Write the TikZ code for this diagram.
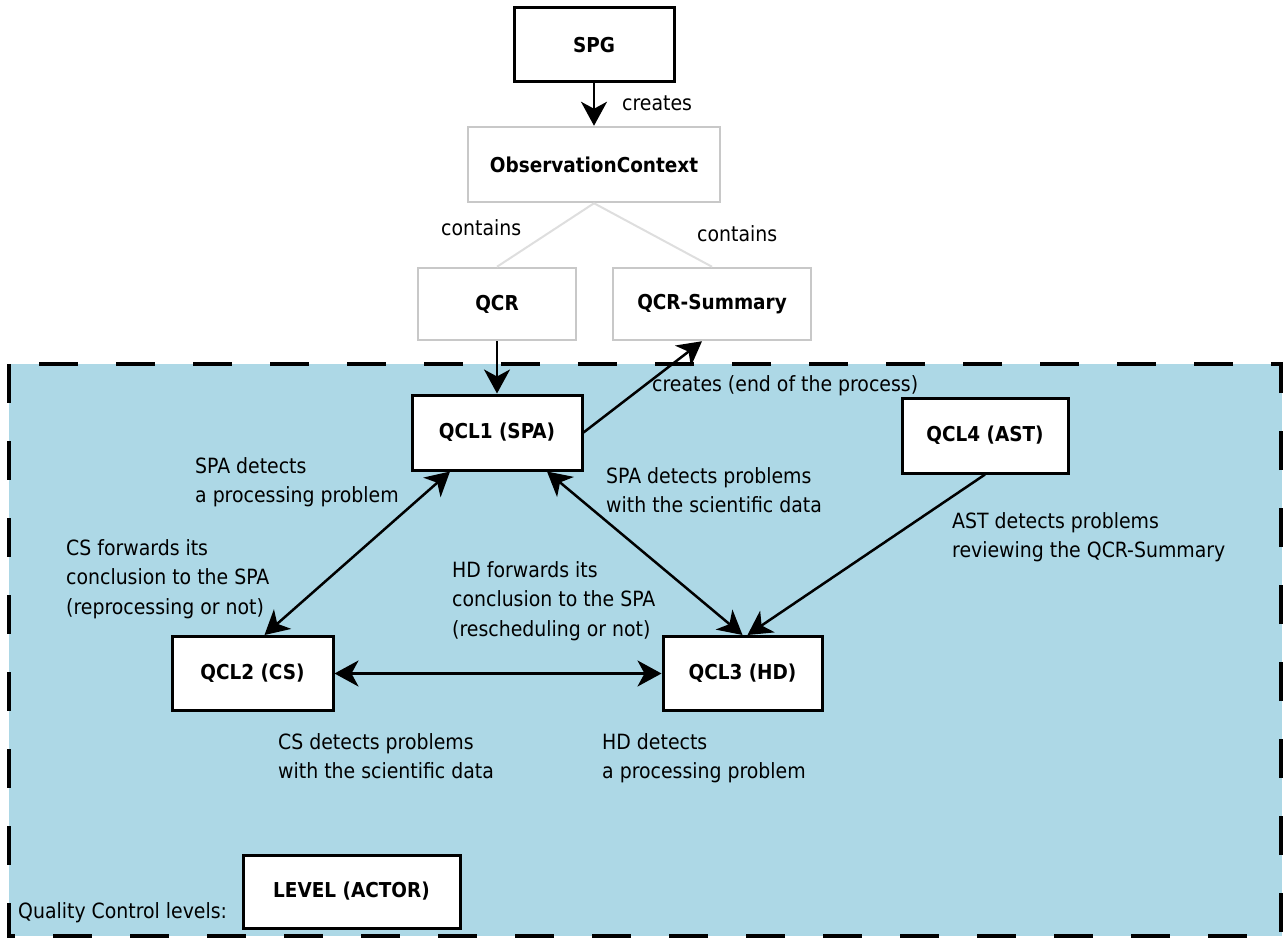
\documentclass[tikz,border=0pt]{standalone}
\usepackage{fontspec}
\setmainfont{DejaVu Sans Condensed}
\usetikzlibrary{arrows.meta}
\definecolor{qcblue}{RGB}{173,216,230}
\definecolor{boxgray}{RGB}{200,200,200}
\definecolor{linkgray}{RGB}{222,222,222}
\newcommand{\notesize}{\fontsize{21}{29.5}\selectfont}
\newcommand{\boxfont}{\fontsize{20.5}{22}\selectfont\bfseries}

\begin{document}
\begin{tikzpicture}[x=1pt,y=-1pt,
	level/.style n args={2}{draw=black, line width=3pt, fill=white, font=\boxfont,
		inner sep=0pt, minimum width=#1, minimum height=#2},
	product/.style n args={2}{draw=boxgray, line width=2.5pt, fill=white, font=\boxfont,
		inner sep=0pt, minimum width=#1, minimum height=#2},
	note/.style={anchor=west, inner sep=0pt, align=left, font=\notesize},
	flow/.style={line width=2.5pt, -{Stealth[length=24pt,width=26pt,inset=7pt]}},
	both/.style={line width=2.5pt, {Stealth[length=24pt,width=26pt,inset=7pt]}-{Stealth[length=24pt,width=26pt,inset=7pt]}},
	link/.style={draw=linkgray, line width=2pt}]
	\useasboundingbox (0,0) rectangle (1287,939);

	% quality control area
	\fill[qcblue] (9,364) rectangle (1282,936);
	\draw[line width=4pt, dash pattern=on 39pt off 38pt] (9,364) rectangle (1281,936);

	% boxes
	\node[level={160pt}{74pt}] (spg) at (594,45) {SPG};
	\node[product={252pt}{75pt}] (obs) at (594,164.5) {ObservationContext};
	\node[product={158pt}{72pt}] (qcr) at (497,304) {QCR};
	\node[product={198pt}{72pt}] (qsum) at (712,304) {QCR-Summary};
	\node[level={170pt}{75pt}] (qcl1) at (497,432.5) {QCL1 (SPA)};
	\node[level={166pt}{75pt}] (qcl4) at (985,435.5) {QCL4 (AST)};
	\node[level={161pt}{74pt}] (qcl2) at (252.5,673.5) {QCL2 (CS)};
	\node[level={159pt}{74pt}] (qcl3) at (742.5,673.5) {QCL3 (HD)};
	\node[level={217pt}{73pt}] (legend) at (351.5,891.5) {LEVEL (ACTOR)};

	% connectors
	\draw[flow] (spg) -- (obs);
	\draw[link] (obs.south) -- (qcr.north);
	\draw[link] (obs.south) -- (qsum.north);
	\draw[flow] (qcr) -- (qcl1);
	\draw[flow] (qcl1.east) -- ([xshift=-10pt]qsum.south);
	\draw[both] ([xshift=-47pt]qcl1.south) -- ([xshift=12pt]qcl2.north);
	\draw[both] ([xshift=50pt]qcl1.south) -- (qcl3.north);
	\draw[flow] (qcl4.south) -- ([xshift=5pt]qcl3.north);
	\draw[both] (qcl2) -- (qcl3);

	% labels
	\node[note] (lcreates) at (622,103) {creates};
	\node[note] (lcontl) at (441,228) {contains};
	\node[note] (lcontr) at (697,234) {contains};
	\node[note] (lend) at (652,386) {creates (end of the process)};
	\node[note] (lspa1) at (195,482) {SPA detects\\a processing problem};
	\node[note] (lcs1) at (66,579) {CS forwards its\\conclusion to the SPA\\(reprocessing or not)};
	\node[note] (lspa2) at (606,490) {SPA detects problems\\with the scientific data};
	\node[note] (lhd1) at (452,601) {HD forwards its\\conclusion to the SPA\\(rescheduling or not)};
	\node[note] (last) at (952,537) {AST detects problems\\reviewing the QCR-Summary};
	\node[note] (lcs2) at (278,756) {CS detects problems\\with the scientific data};
	\node[note] (lhd2) at (602,758) {HD detects\\a processing problem};
	\node[note] (lqc) at (18,913) {Quality Control levels:};
\end{tikzpicture}
\end{document}
